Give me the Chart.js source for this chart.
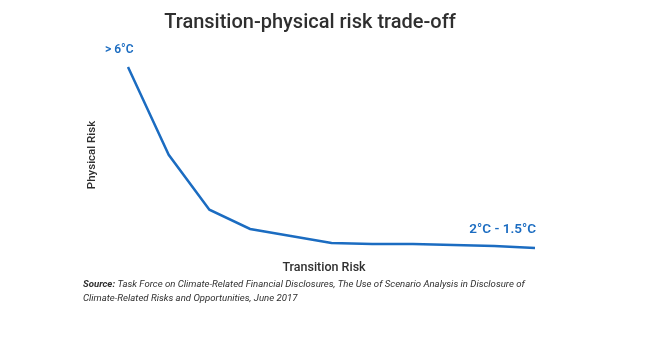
<!DOCTYPE html>
<html>
<head>
<meta charset="utf-8">
<script src="https://cdn.jsdelivr.net/npm/chart.js@4.4.0/dist/chart.umd.min.js"></script>
<style>
  html, body { margin: 0; padding: 0; background: #fff; }
  #wrap { width: 652px; height: 346px; position: relative; }
</style>
</head>
<body>
<div id="wrap"><canvas id="tradeoff" width="652" height="346"></canvas></div>
<script>
// Transition risk steps (left = business as usual, right = strong policy)
const steps = [0, 1, 2, 3, 4, 5, 6, 7, 8, 9, 10];
// Physical risk index along the curve
const physicalRisk = [100, 52, 22, 11.5, 7.7, 3.8, 3.3, 3.3, 2.7, 2.2, 1.1];
const endLabels = ['> 6°C', '2°C - 1.5°C'];

const blue = '#1b6cc1';
const dark = '#2f2f2f';

// titles, end labels and source note drawn straight on the canvas
const annotations = {
    id: 'annotations',
    afterDraw(chart) {
        const ctx = chart.ctx;
        const x = chart.scales.x, y = chart.scales.y;
        ctx.save();

        ctx.fillStyle = dark;
        ctx.textAlign = 'center';
        ctx.textBaseline = 'middle';
        ctx.font = '500 20px Roboto';
        ctx.fillText('Transition-physical risk trade-off', 310, 23);

        ctx.font = '500 12.5px Roboto';
        ctx.fillText('Transition Risk', 324, 268);
        ctx.save();
        ctx.translate(92, 155);
        ctx.rotate(-Math.PI / 2);
        ctx.font = '500 11.5px Roboto';
        ctx.fillText('Physical Risk', 0, 0);
        ctx.restore();

        ctx.fillStyle = blue;
        ctx.font = '600 12px Roboto';
        ctx.textAlign = 'left';
        ctx.fillText(endLabels[0], x.getPixelForValue(steps[0]) - 23, y.getPixelForValue(physicalRisk[0]) - 17);
        ctx.textAlign = 'right';
        const last = steps.length - 1;
        ctx.font = '600 13.5px Roboto';
        ctx.fillText(endLabels[1], x.getPixelForValue(steps[last]) + 1, y.getPixelForValue(physicalRisk[last]) - 18);

        ctx.fillStyle = dark;
        ctx.textAlign = 'left';
        ctx.font = 'italic bold 9.6px Roboto';
        ctx.fillText('Source:', 83, 285);
        const w = ctx.measureText('Source:').width;
        ctx.font = 'italic 9.6px Roboto';
        ctx.fillText(' Task Force on Climate-Related Financial Disclosures, The Use of Scenario Analysis in Disclosure of', 83 + w, 285);
        ctx.fillText('Climate-Related Risks and Opportunities, June 2017', 83, 299);
        ctx.restore();
    }
};

new Chart(document.getElementById('tradeoff'), {
    type: 'line',
    data: {
        labels: steps,
        datasets: [{
            data: physicalRisk,
            borderColor: blue,
            borderWidth: 2.5,
            pointRadius: 0,
            tension: 0,
            clip: false
        }]
    },
    options: {
        responsive: false,
        animation: false,
        layout: { padding: { left: 128, right: 117, top: 67, bottom: 96 } },
        plugins: { legend: { display: false }, tooltip: { enabled: false } },
        scales: {
            x: { type: 'linear', min: 0, max: 10, display: false },
            y: { min: 0, max: 100, display: false }
        }
    },
    plugins: [annotations]
});
</script>
</body>
</html>
